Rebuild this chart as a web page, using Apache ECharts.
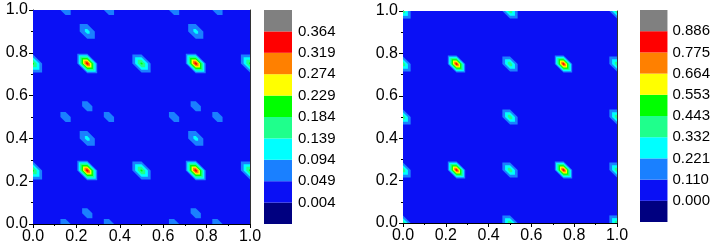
<!DOCTYPE html>
<html>
<head>
<meta charset="utf-8">
<script src="https://cdn.jsdelivr.net/npm/echarts@6/dist/echarts.min.js"></script>
<style>html,body{margin:0;padding:0;background:#fff}#c{width:713px;height:246px}</style>
</head>
<body>
<div id="c"></div>
<script>
// ---------- data ----------
const axisTickLabels = ['0.0', '0.2', '0.4', '0.6', '0.8', '1.0'];

const leftLevels = [0.004, 0.049, 0.094, 0.139, 0.184, 0.229, 0.274, 0.319, 0.364];
const leftLevelLabels = ['0.004', '0.049', '0.094', '0.139', '0.184', '0.229', '0.274', '0.319', '0.364'];
const rightLevels = [0.000, 0.110, 0.221, 0.332, 0.443, 0.553, 0.664, 0.775, 0.886];
const rightLevelLabels = ['0.000', '0.110', '0.221', '0.332', '0.443', '0.553', '0.664', '0.775', '0.886'];

const bandColors = ['#000080', '#0a10f5', '#1a80ff', '#00ffff', '#1fff8c', '#00ff00', '#ffff00', '#ff8000', '#ff0000', '#808080'];

// background value of each field
const leftBackground = [0.02];
const rightBackground = [0.03];

// peaks of the left field: [x, y, value]
const leftPeaks = [
  [0.25, 0.25, 0.36], [0.75, 0.25, 0.36], [0.25, 0.75, 0.36], [0.75, 0.75, 0.36],
  [0.00, 0.25, 0.20], [0.50, 0.25, 0.20], [1.00, 0.25, 0.20],
  [0.00, 0.75, 0.20], [0.50, 0.75, 0.20], [1.00, 0.75, 0.20],
  [0.25, 0.40, 0.115], [0.75, 0.40, 0.115], [0.25, 0.90, 0.115], [0.75, 0.90, 0.115],
  [0.25, 0.05, 0.075], [0.75, 0.05, 0.075], [0.25, 0.55, 0.075], [0.75, 0.55, 0.075],
  [0.15, 0.00, 0.075], [0.35, 0.00, 0.075], [0.65, 0.00, 0.075], [0.85, 0.00, 0.075],
  [0.15, 0.50, 0.075], [0.35, 0.50, 0.075], [0.65, 0.50, 0.075], [0.85, 0.50, 0.075],
  [0.15, 1.00, 0.075], [0.35, 1.00, 0.075], [0.65, 1.00, 0.075], [0.85, 1.00, 0.075]
];

// peaks of the right field: [x, y, value]
const rightPeaks = [
  [0.25, 0.25, 0.86], [0.75, 0.25, 0.86], [0.25, 0.75, 0.86], [0.75, 0.75, 0.86],
  [0.00, 0.00, 0.42], [0.00, 0.25, 0.42], [0.00, 0.50, 0.42], [0.00, 0.75, 0.42], [0.00, 1.00, 0.42],
  [0.50, 0.00, 0.42], [0.50, 0.25, 0.42], [0.50, 0.50, 0.42], [0.50, 0.75, 0.42], [0.50, 1.00, 0.42],
  [1.00, 0.00, 0.42], [1.00, 0.25, 0.42], [1.00, 0.50, 0.42], [1.00, 0.75, 0.42], [1.00, 1.00, 0.42]
];

const bandIndex = [0, 1, 2, 3, 4, 5, 6, 7, 8, 9];

// ---------- rendering ----------
const FONT = 'Liberation Sans, Arial, Helvetica, sans-serif';
const clamp = v => Math.max(0, Math.min(1, v));

function colorOf(levels, v) {
  let i = 0;
  while (i < levels.length && v >= levels[i]) i++;
  return bandColors[i];
}

function backgroundRenderer(levels) {
  return function (params, api) {
    const p0 = api.coord([0, 0]), p1 = api.coord([1, 1]);
    return {
      type: 'rect',
      shape: { x: p0[0], y: p1[1], width: p1[0] - p0[0], height: p0[1] - p1[1] },
      style: { fill: colorOf(levels, api.value(0)) }
    };
  };
}

function peakRenderer(levels, B, spacing) {
  return function (params, api) {
    const x = api.value(0), y = api.value(1), P = api.value(2);
    const children = [];
    levels.forEach((L, k) => {
      if (L > B && L < P) {
        const r = spacing * (P - L) / (P - B);
        const pts = [[x - r, y + r], [x, y + r], [x + r, y], [x + r, y - r], [x, y - r], [x - r, y]]
          .map(p => api.coord([clamp(p[0]), clamp(p[1])]));
        children.push({ type: 'polygon', shape: { points: pts }, style: { fill: bandColors[k + 1] } });
      }
    });
    return { type: 'group', children: children };
  };
}

function barRenderer(params, api) {
  const i = api.value(0);
  const p0 = api.coord([0, i]), p1 = api.coord([1, i + 1]);
  return {
    type: 'rect',
    shape: { x: p0[0], y: p1[1], width: p1[0] - p0[0], height: p0[1] - p1[1] },
    style: { fill: bandColors[i] }
  };
}

const labelStyle = { color: '#000', fontFamily: FONT, fontSize: 16 };

function mainX(grid) {
  return {
    gridIndex: grid, type: 'value', min: 0, max: 1, interval: 0.2, position: 'bottom',
    axisLine: { show: true, onZero: false, lineStyle: { color: '#000', width: 1 } },
    axisTick: { show: true, inside: false, length: 4, lineStyle: { color: '#000' } },
    minorTick: { show: true, splitNumber: 2, length: 2, lineStyle: { color: '#000' } },
    axisLabel: Object.assign({ margin: 5, formatter: v => axisTickLabels[Math.round(v / 0.2)] }, labelStyle),
    splitLine: { show: false }
  };
}
function mainY(grid) {
  return {
    gridIndex: grid, type: 'value', min: 0, max: 1, interval: 0.2, position: 'left',
    axisLine: { show: true, onZero: false, lineStyle: { color: '#000', width: 1 } },
    axisTick: { show: true, inside: false, length: 4, lineStyle: { color: '#000' } },
    minorTick: { show: true, splitNumber: 2, length: 2, lineStyle: { color: '#000' } },
    axisLabel: Object.assign({ margin: 5, formatter: v => axisTickLabels[Math.round(v / 0.2)] }, labelStyle),
    splitLine: { show: false }
  };
}
function frameX(grid) {
  return {
    gridIndex: grid, type: 'value', min: 0, max: 1, position: 'top',
    axisLine: { show: true, onZero: false, lineStyle: { color: '#333', width: 1 } },
    axisTick: { show: false }, axisLabel: { show: false }, splitLine: { show: false }
  };
}
function frameY(grid) {
  return {
    gridIndex: grid, type: 'value', min: 0, max: 1, position: 'right',
    axisLine: { show: true, onZero: false, lineStyle: { color: '#333', width: 1 } },
    axisTick: { show: false }, axisLabel: { show: false }, splitLine: { show: false }
  };
}
function cbX(grid) {
  return { gridIndex: grid, type: 'value', min: 0, max: 1, show: false };
}
function cbY(grid, labels, margin) {
  return {
    gridIndex: grid, type: 'value', min: 0, max: 10, interval: 1, position: 'right',
    axisLine: { show: false }, axisTick: { show: false }, splitLine: { show: false },
    axisLabel: Object.assign({
      margin: margin,
      formatter: v => (v >= 1 && v <= 9) ? labels[v - 1] : ''
    }, labelStyle, { fontSize: 15 })
  };
}

const option = {
  animation: false,
  backgroundColor: '#fff',
  grid: [
    { left: 33, top: 10, width: 217, height: 214 },
    { left: 264, top: 10, width: 28, height: 214 },
    { left: 403, top: 11, width: 214, height: 212 },
    { left: 640, top: 10, width: 28, height: 212 }
  ],
  xAxis: [mainX(0), frameX(0), cbX(1), mainX(2), frameX(2), cbX(3)],
  yAxis: [mainY(0), frameY(0), cbY(1, leftLevelLabels, 6), mainY(2), frameY(2), cbY(3, rightLevelLabels, 5)],
  series: [
    { type: 'custom', xAxisIndex: 0, yAxisIndex: 0, clip: true, renderItem: backgroundRenderer(leftLevels), data: leftBackground.map(v => [v]), z: 1 },
    { type: 'custom', xAxisIndex: 0, yAxisIndex: 0, clip: true, renderItem: peakRenderer(leftLevels, leftBackground[0], 0.05), data: leftPeaks, z: 2 },
    { type: 'custom', xAxisIndex: 2, yAxisIndex: 2, renderItem: barRenderer, data: bandIndex.map(i => [i]), z: 2 },
    { type: 'custom', xAxisIndex: 3, yAxisIndex: 3, clip: true, renderItem: backgroundRenderer(rightLevels), data: rightBackground.map(v => [v]), z: 1 },
    { type: 'custom', xAxisIndex: 3, yAxisIndex: 3, clip: true, renderItem: peakRenderer(rightLevels, rightBackground[0], 0.045), data: rightPeaks, z: 2 },
    { type: 'custom', xAxisIndex: 5, yAxisIndex: 5, renderItem: barRenderer, data: bandIndex.map(i => [i]), z: 2 }
  ]
};

const chart = echarts.init(document.getElementById('c'), null, { renderer: 'canvas' });
chart.setOption(option);
</script>
</body>
</html>
